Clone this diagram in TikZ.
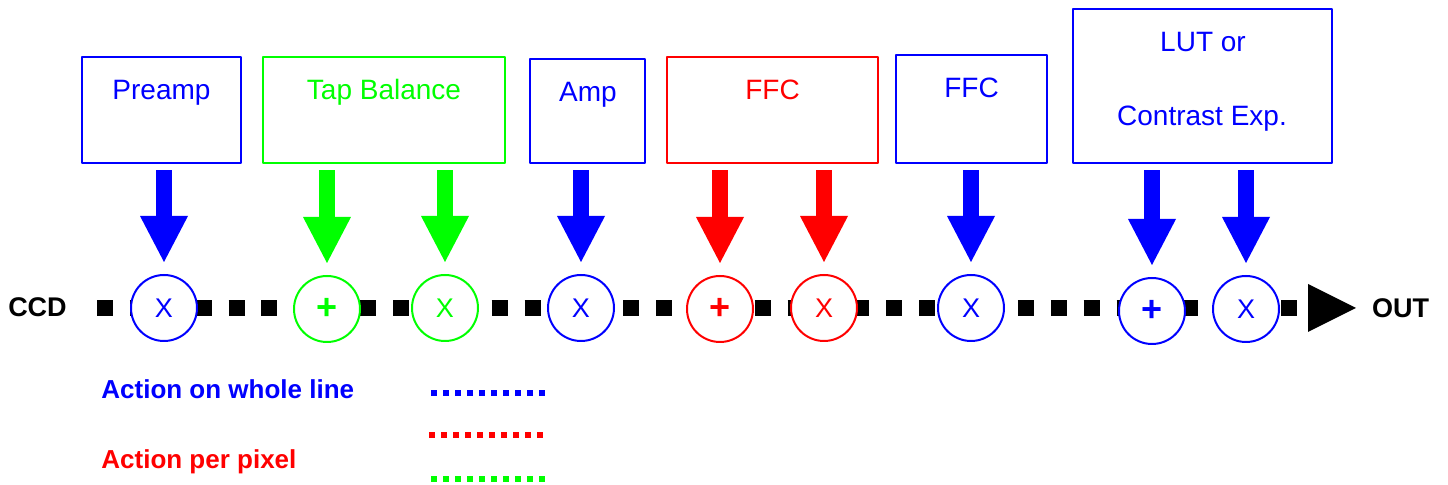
\documentclass[tikz,border=0pt]{standalone}
\usepackage{fontspec}
\setmainfont{Liberation Sans}
\usetikzlibrary{arrows.meta}
\begin{document}
\begin{tikzpicture}[x=.5pt,y=-.5pt,line join=round,
	txt/.style={anchor=base,inner sep=0pt,font=\fontsize{14}{16}\selectfont},
	btxt/.style={anchor=base,inner sep=0pt,font=\fontsize{13.5}{16}\selectfont\bfseries},
	tbox/.style={draw=#1,line width=1.2pt,inner sep=0pt},
	op/.style={circle,draw=#1,text=#1,fill=white,line width=1pt,minimum size=33pt,inner sep=0pt,font=\fontsize{13.5}{13.5}\selectfont},
	feed/.style={draw=#1,line width=8pt,shorten <=3pt,shorten >=6pt,-{Triangle[length=23pt,width=24pt,line width=0pt]}},
	sig/.style={line width=8pt,dash pattern=on 8pt off 8.445pt},
	key/.style={draw=#1,line width=3pt,dash pattern=on 3pt off 3pt}]
	\useasboundingbox (0,0) rectangle (1448,485);
	% signal line
	\coordinate (lin) at (97,308); \coordinate (tip) at (1356,308);
	\draw[sig,-{Triangle[length=24pt,width=24pt,line width=0pt]}] (lin) -- (tip);
	\node[btxt] (ccd) at (37.5,317) {CCD};
	\node[btxt] (out) at (1400.5,318) {OUT};
	% operators
	\foreach \n/\x/\y/\col/\s in {c1/164/308/blue/X, c2/327/309/green/{\fontsize{18}{18}\selectfont\bfseries +}, c3/445/308/green/X, c4/581/308/blue/X, c5/720/309/red/{\fontsize{18}{18}\selectfont\bfseries +}, c6/824/308/red/X, c7/971/308/blue/X, c8/1152/311/blue/{\fontsize{18}{18}\selectfont\bfseries +}, c9/1246/309/blue/X}
		\node[op=\col] (\n) at (\x,\y) {\s};
	% boxes
	\node[tbox=blue,minimum width=79.5pt,minimum height=53pt] (pre) at (161.5,110) {};
	\node[tbox=green,minimum width=121pt,minimum height=53pt] (tap) at (384,110) {};
	\node[tbox=blue,minimum width=57.5pt,minimum height=52pt] (amp) at (587.5,111) {};
	\node[tbox=red,minimum width=105.5pt,minimum height=53pt] (ffc) at (772.5,110) {};
	\node[tbox=blue,minimum width=75.5pt,minimum height=54pt] (adj) at (971.5,109) {};
	\node[tbox=blue,minimum width=129.5pt,minimum height=77pt] (lut) at (1202.5,86) {};
	\node[txt,text=blue] (pret) at (161.5,100) {Preamp};
	\node[txt,text=green] (tapt) at (384,100) {Tap Balance};
	\node[txt,text=blue] (ampt) at (588,102) {Amp};
	\node[txt,text=red] (ffct) at (772.5,100) {FFC};
	\node[txt,text=blue] (adjt) at (971.5,98) {FFC};
	\node[txt,text=blue] (lutt) at (1203,52) {LUT or};
	\node[txt,text=blue] (cont) at (1202,126) {Contrast Exp.};
	% feeds
	\foreach \b/\c/\col in {pre/c1/blue, tap/c2/green, tap/c3/green, amp/c4/blue, ffc/c5/red, ffc/c6/red, adj/c7/blue, lut/c8/blue, lut/c9/blue}
		\draw[feed=\col] (\c |- \b.south) -- (\c.north);
	% legend
	\node[btxt,anchor=base west,text=blue,font=\fontsize{13}{16}\selectfont\bfseries] (kline) at (101,399) {Action on whole line};
	\node[btxt,anchor=base west,text=red,font=\fontsize{13}{16}\selectfont\bfseries] (kpix) at (101,469) {Action per pixel};
	\draw[key=blue] (431,393) -- (545,393);
	\draw[key=red] (429,435) -- (543,435);
	\draw[key=green] (431,479) -- (545,479);
\end{tikzpicture}
\end{document}
